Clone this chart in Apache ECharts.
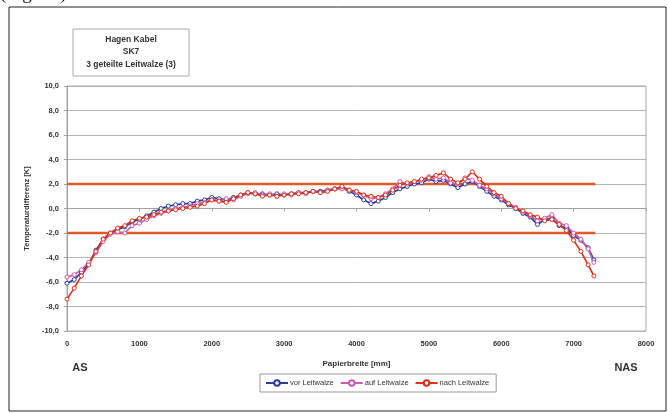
<!DOCTYPE html>
<html>
<head>
<meta charset="utf-8">
<script src="https://cdn.jsdelivr.net/npm/echarts@6/dist/echarts.min.js"></script>
<style>
  html, body { margin: 0; padding: 0; background: #fff; }
  #chart { width: 668px; height: 413px; }
</style>
</head>
<body>
<div id="chart"></div>
<script>
// Paper width positions [mm]
const positions = [0,100,200,300,400,500,600,700,800,900,1000,1100,1200,1300,1400,1500,1600,1700,1800,1900,2000,2100,2200,2300,2400,2500,2600,2700,2800,2900,3000,3100,3200,3300,3400,3500,3600,3700,3800,3900,4000,4100,4200,4300,4400,4500,4600,4700,4800,4900,5000,5100,5200,5300,5400,5500,5600,5700,5800,5900,6000,6100,6200,6300,6400,6500,6600,6700,6800,6900,7000,7100,7200,7280];

// Temperature difference [K] per position
const vorLeitwalze = [-6.1,-5.8,-5.2,-4.5,-3.4,-2.5,-2.0,-1.7,-1.5,-1.1,-0.9,-0.6,-0.3,0.0,0.2,0.3,0.4,0.4,0.6,0.7,0.9,0.8,0.7,0.9,1.1,1.3,1.2,1.2,1.1,1.2,1.1,1.2,1.3,1.3,1.4,1.4,1.5,1.6,1.7,1.4,1.1,0.7,0.4,0.6,0.9,1.3,1.6,1.8,2.0,2.1,2.4,2.2,2.3,2.0,1.7,2.0,2.2,1.8,1.4,1.0,0.7,0.3,0.0,-0.4,-0.7,-1.3,-0.9,-0.8,-1.4,-1.6,-2.2,-2.6,-3.2,-4.2];
const aufLeitwalze = [-5.6,-5.4,-5.0,-4.4,-3.6,-2.7,-2.1,-1.9,-2.0,-1.4,-1.2,-0.9,-0.6,-0.4,-0.2,0.0,0.1,0.2,0.4,0.5,0.7,0.6,0.8,0.7,1.0,1.2,1.3,1.1,1.2,1.0,1.2,1.1,1.3,1.2,1.4,1.3,1.5,1.6,1.6,1.5,1.3,1.1,0.8,0.9,1.2,1.6,2.2,2.0,2.2,2.3,2.6,2.4,2.5,2.1,2.0,2.5,2.3,1.9,1.6,1.2,0.8,0.4,0.1,-0.3,-0.6,-1.0,-0.8,-0.5,-1.2,-1.4,-2.0,-2.5,-3.3,-4.4];
const nachLeitwalze = [-7.4,-6.5,-5.5,-4.6,-3.5,-2.5,-2.0,-1.6,-1.4,-1.0,-0.8,-0.7,-0.5,-0.3,-0.2,-0.1,0.0,0.1,0.2,0.4,0.7,0.6,0.5,0.8,1.1,1.3,1.2,1.0,1.1,1.0,1.1,1.2,1.2,1.3,1.4,1.3,1.4,1.6,1.8,1.5,1.4,1.1,1.0,0.9,1.1,1.5,1.9,2.1,2.2,2.4,2.5,2.7,2.9,2.4,2.1,2.4,3.0,2.4,1.8,1.3,1.0,0.4,0.0,-0.2,-0.5,-0.7,-1.0,-0.9,-1.3,-1.8,-2.6,-3.5,-4.6,-5.5];

// Tolerance band
const toleranceUpper = 2;
const toleranceLower = -2;
const toleranceEnd = 7300;

const seriesNames = ['vor Leitwalze', 'auf Leitwalze', 'nach Leitwalze'];
const titleLines = ['Hagen Kabel', 'SK7', '3 geteilte Leitwalze (3)'];

const pair = (ys) => positions.map((x, i) => [x, ys[i]]);
const fmt = (v) => v.toFixed(1).replace('.', ',');

const dataSeries = (name, ys, color) => ({
  name: name,
  type: 'line',
  data: pair(ys),
  symbol: 'circle',
  symbolSize: 4,
  showAllSymbol: true,
  lineStyle: { color: color, width: 1.7 },
  itemStyle: { color: '#fff', borderColor: color, borderWidth: 1 },
  color: color,
  z: 3
});

const bandSeries = (y) => ({
  type: 'line',
  data: [[0, y], [toleranceEnd, y]],
  symbol: 'none',
  lineStyle: { color: '#E25A2C', width: 2.6 },
  silent: true,
  z: 2
});

const chart = echarts.init(document.getElementById('chart'), null, { renderer: 'canvas' });

chart.setOption({
  animation: false,
  backgroundColor: '#fff',
  textStyle: { fontFamily: 'Liberation Sans, Arial, sans-serif' },
  grid: {
    left: 67, right: 22, top: 86, bottom: 82,
    show: true, borderColor: '#a8a8a8', borderWidth: 1, backgroundColor: 'transparent'
  },
  xAxis: {
    type: 'value',
    min: 0, max: 8000, interval: 1000,
    name: 'Papierbreite [mm]',
    nameLocation: 'middle',
    nameGap: 29,
    nameTextStyle: { fontSize: 8, fontWeight: 'bold', color: '#333' },
    axisLine: { show: true, lineStyle: { color: '#a0a0a0' } },
    axisTick: { show: true, length: 3, lineStyle: { color: '#a0a0a0' } },
    axisLabel: { fontSize: 7.5, fontWeight: 'bold', color: '#333', margin: 9, formatter: (v) => String(v) },
    splitLine: { show: false }
  },
  yAxis: {
    type: 'value',
    min: -10, max: 10, interval: 2,
    name: 'Temperaturdifferenz [K]',
    nameLocation: 'middle',
    nameGap: 36,
    nameTextStyle: { fontSize: 7.5, fontWeight: 'bold', color: '#333' },
    axisLine: { show: true, lineStyle: { color: '#a0a0a0' } },
    axisTick: { show: true, length: 3, lineStyle: { color: '#a0a0a0' } },
    axisLabel: { fontSize: 7.5, fontWeight: 'bold', color: '#333', margin: 8, formatter: fmt },
    splitLine: { show: true, lineStyle: { color: '#b4b4b4', width: 1 } }
  },
  legend: {
    data: seriesNames,
    left: 260, top: 374,
    padding: [5, 7, 5, 5],
    itemWidth: 22, itemHeight: 7, itemGap: 6,
    borderColor: '#999', borderWidth: 1,
    textStyle: { fontSize: 7.5, color: '#333', padding: [0, 0, 0, -3] }
  },
  series: [
    bandSeries(toleranceUpper),
    bandSeries(toleranceLower),
    dataSeries(seriesNames[0], vorLeitwalze, '#2E3C9C'),
    dataSeries(seriesNames[1], aufLeitwalze, '#CC5AAE'),
    dataSeries(seriesNames[2], nachLeitwalze, '#D8331A')
  ],
  graphic: [
    // outer frame
    { type: 'rect', shape: { x: 9, y: 7, width: 657, height: 404 },
      style: { fill: 'none', stroke: '#222', lineWidth: 1 }, z: 0 },
    // caption fragment above the frame
    { type: 'text', left: 0, top: -15,
      style: { text: '(Fig. 37).', font: '19px "Liberation Serif", serif', fill: '#111' } },
    // title box
    { type: 'rect', shape: { x: 73, y: 29, width: 116, height: 47 },
      style: { fill: '#fff', stroke: '#aaa', lineWidth: 1 } },
    { type: 'text', x: 131, y: 33,
      style: { text: titleLines.join('\n'), align: 'center', verticalAlign: 'top',
               font: 'bold 8.5px "Liberation Sans", Arial, sans-serif', lineHeight: 12.5, fill: '#333' } },
    // edge markers
    { type: 'text', x: 80, y: 368,
      style: { text: 'AS', align: 'center', verticalAlign: 'middle',
               font: 'bold 11px "Liberation Sans", Arial, sans-serif', fill: '#333' } },
    { type: 'text', x: 626, y: 368,
      style: { text: 'NAS', align: 'center', verticalAlign: 'middle',
               font: 'bold 11px "Liberation Sans", Arial, sans-serif', fill: '#333' } }
  ]
});
</script>
</body>
</html>
